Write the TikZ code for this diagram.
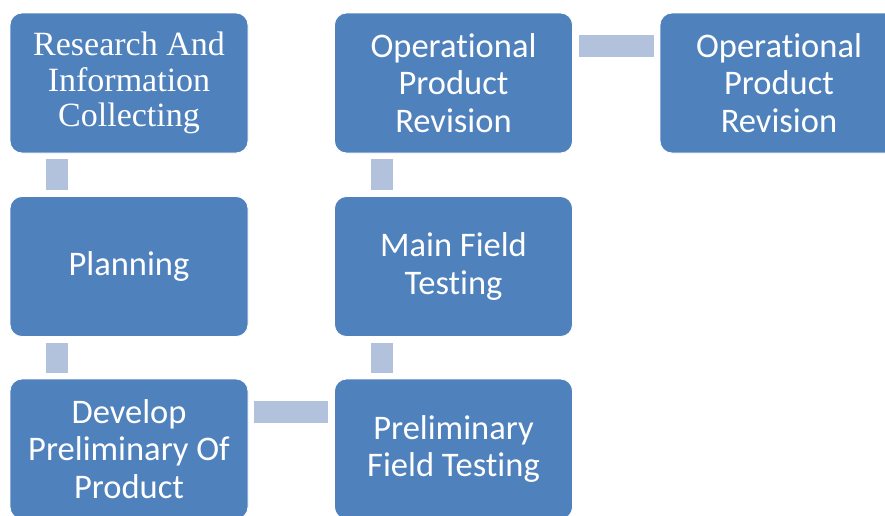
\documentclass[tikz,border=0pt]{standalone}
\usepackage{fontspec}
\setmainfont{Liberation Serif}
\newfontfamily\carlito[Ligatures={NoCommon,NoDiscretionary}]{Carlito}
\usepackage{tikz}
\usetikzlibrary{calc}
\definecolor{stageblue}{HTML}{4F81BD}
\definecolor{linkblue}{HTML}{B3C2DC}
\tikzset{
    % rounded box for each step of the process
    stage/.style={
        rectangle, rounded corners=12pt,
        fill=stageblue, draw=white, line width=0.8pt,
        minimum width=238pt, minimum height=140pt,
        text=white, align=center,
        font=\carlito\fontsize{34.5}{37.5}\selectfont
    },
    % flat light bar between two boxes
    link/.style={
        draw=linkblue, line width=22pt, line cap=butt,
        shorten <=6pt, shorten >=6pt
    }
}
\begin{document}
\begin{tikzpicture}[x=1pt, y=-1pt]
            \useasboundingbox (0,0) rectangle (885,515);
            \clip (0,0) rectangle (885,515);
            \node (research) at (129,83)[stage, font=\fontsize{34}{35.5}\selectfont]{Research And\\Information\\Collecting};
            \node (planning) at (129,266.5)[stage]{Planning};
            \node (develop) at (129,449)[stage]{Develop\\Preliminary Of\\Product};
            \node (prelim) at (453.5,449)[stage]{Preliminary\\Field Testing};
            \node (mainfield) at (453.5,266.5)[stage]{Main Field\\Testing};
            \node (oprev) at (453.5,83)[stage]{Operational\\Product\\Revision};
            \node (oprevb) at (779,83)[stage]{Operational\\Product\\Revision};
            \begin{scope}[link]
                \draw ([xshift=-72pt]research.south) -- ([xshift=-72pt]planning.north);
                \draw ([xshift=-72pt]planning.south) -- ([xshift=-72pt]develop.north);
                \draw ([yshift=37pt]develop.east) -- ([yshift=37pt]prelim.west);
                \draw ([xshift=-72pt]prelim.north) -- ([xshift=-72pt]mainfield.south);
                \draw ([xshift=-72pt]mainfield.north) -- ([xshift=-72pt]oprev.south);
                \draw ([yshift=37.5pt]oprev.east) -- ([yshift=37.5pt]oprevb.west);
            \end{scope}
        \end{tikzpicture}
\end{document}
